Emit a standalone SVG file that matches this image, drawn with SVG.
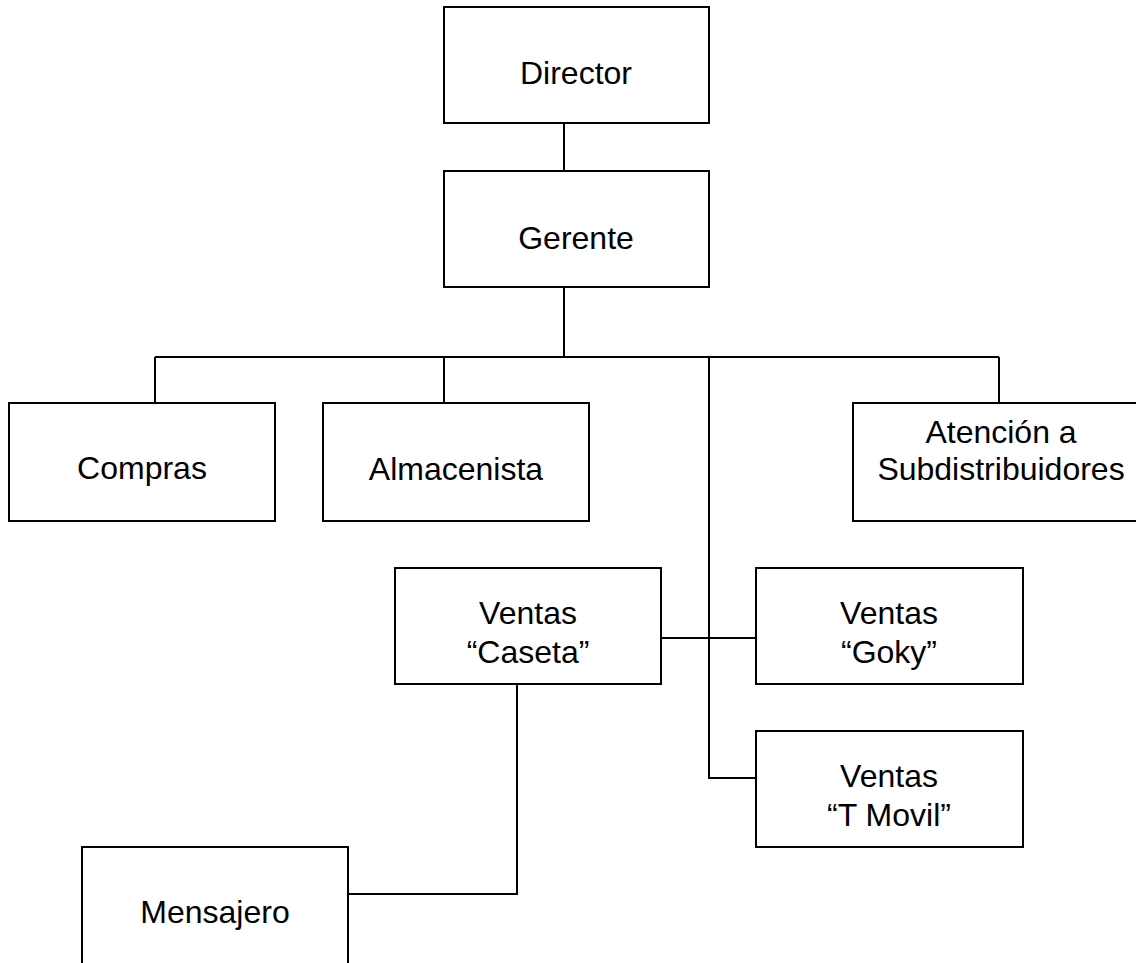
<svg xmlns="http://www.w3.org/2000/svg" width="1136" height="963" viewBox="0 0 1136 963">
  <style>
    .box { fill: #ffffff; stroke: #000000; stroke-width: 2; }
    .link { fill: none; stroke: #000000; stroke-width: 2; }
    .label { font-family: "Liberation Sans", Arial, sans-serif; font-size: 32px; fill: #000000; text-anchor: middle; }
  </style>
  <rect width="1136" height="963" fill="#ffffff"/>

  <!-- connectors -->
  <g id="connectors">
    <line class="link" x1="564" y1="123" x2="564" y2="171"/>
    <line class="link" x1="564" y1="287" x2="564" y2="357"/>
    <line class="link" x1="155" y1="357" x2="999" y2="357"/>
    <line class="link" x1="155" y1="357" x2="155" y2="403"/>
    <line class="link" x1="444" y1="357" x2="444" y2="403"/>
    <line class="link" x1="999" y1="357" x2="999" y2="403"/>
    <polyline class="link" points="709,357 709,778 756,778"/>
    <line class="link" x1="661" y1="638" x2="756" y2="638"/>
    <polyline class="link" points="517,684 517,894 348,894"/>
  </g>

  <g id="director">
    <rect class="box" x="444" y="7" width="265" height="116"/>
    <text class="label" x="576" y="84">Director</text>
  </g>

  <g id="gerente">
    <rect class="box" x="444" y="171" width="265" height="116"/>
    <text class="label" x="576" y="249">Gerente</text>
  </g>

  <g id="compras">
    <rect class="box" x="9" y="403" width="266" height="118"/>
    <text class="label" x="142" y="479">Compras</text>
  </g>

  <g id="almacenista">
    <rect class="box" x="323" y="403" width="266" height="118"/>
    <text class="label" x="456" y="480">Almacenista</text>
  </g>

  <g id="atencion">
    <rect class="box" x="853" y="403" width="296" height="118"/>
    <text class="label" x="1001" y="443">Atención a</text>
    <text class="label" x="1001" y="480">Subdistribuidores</text>
  </g>

  <g id="ventas-caseta">
    <rect class="box" x="395" y="568" width="266" height="116"/>
    <text class="label" x="528" y="624">Ventas</text>
    <text class="label" x="528" y="663">“Caseta”</text>
  </g>

  <g id="ventas-goky">
    <rect class="box" x="756" y="568" width="267" height="116"/>
    <text class="label" x="889" y="624">Ventas</text>
    <text class="label" x="889" y="663">“Goky”</text>
  </g>

  <g id="ventas-tmovil">
    <rect class="box" x="756" y="731" width="267" height="116"/>
    <text class="label" x="889" y="787">Ventas</text>
    <text class="label" x="889" y="826">“T Movil”</text>
  </g>

  <g id="mensajero">
    <rect class="box" x="82" y="847" width="266" height="130"/>
    <text class="label" x="215" y="923">Mensajero</text>
  </g>
</svg>
